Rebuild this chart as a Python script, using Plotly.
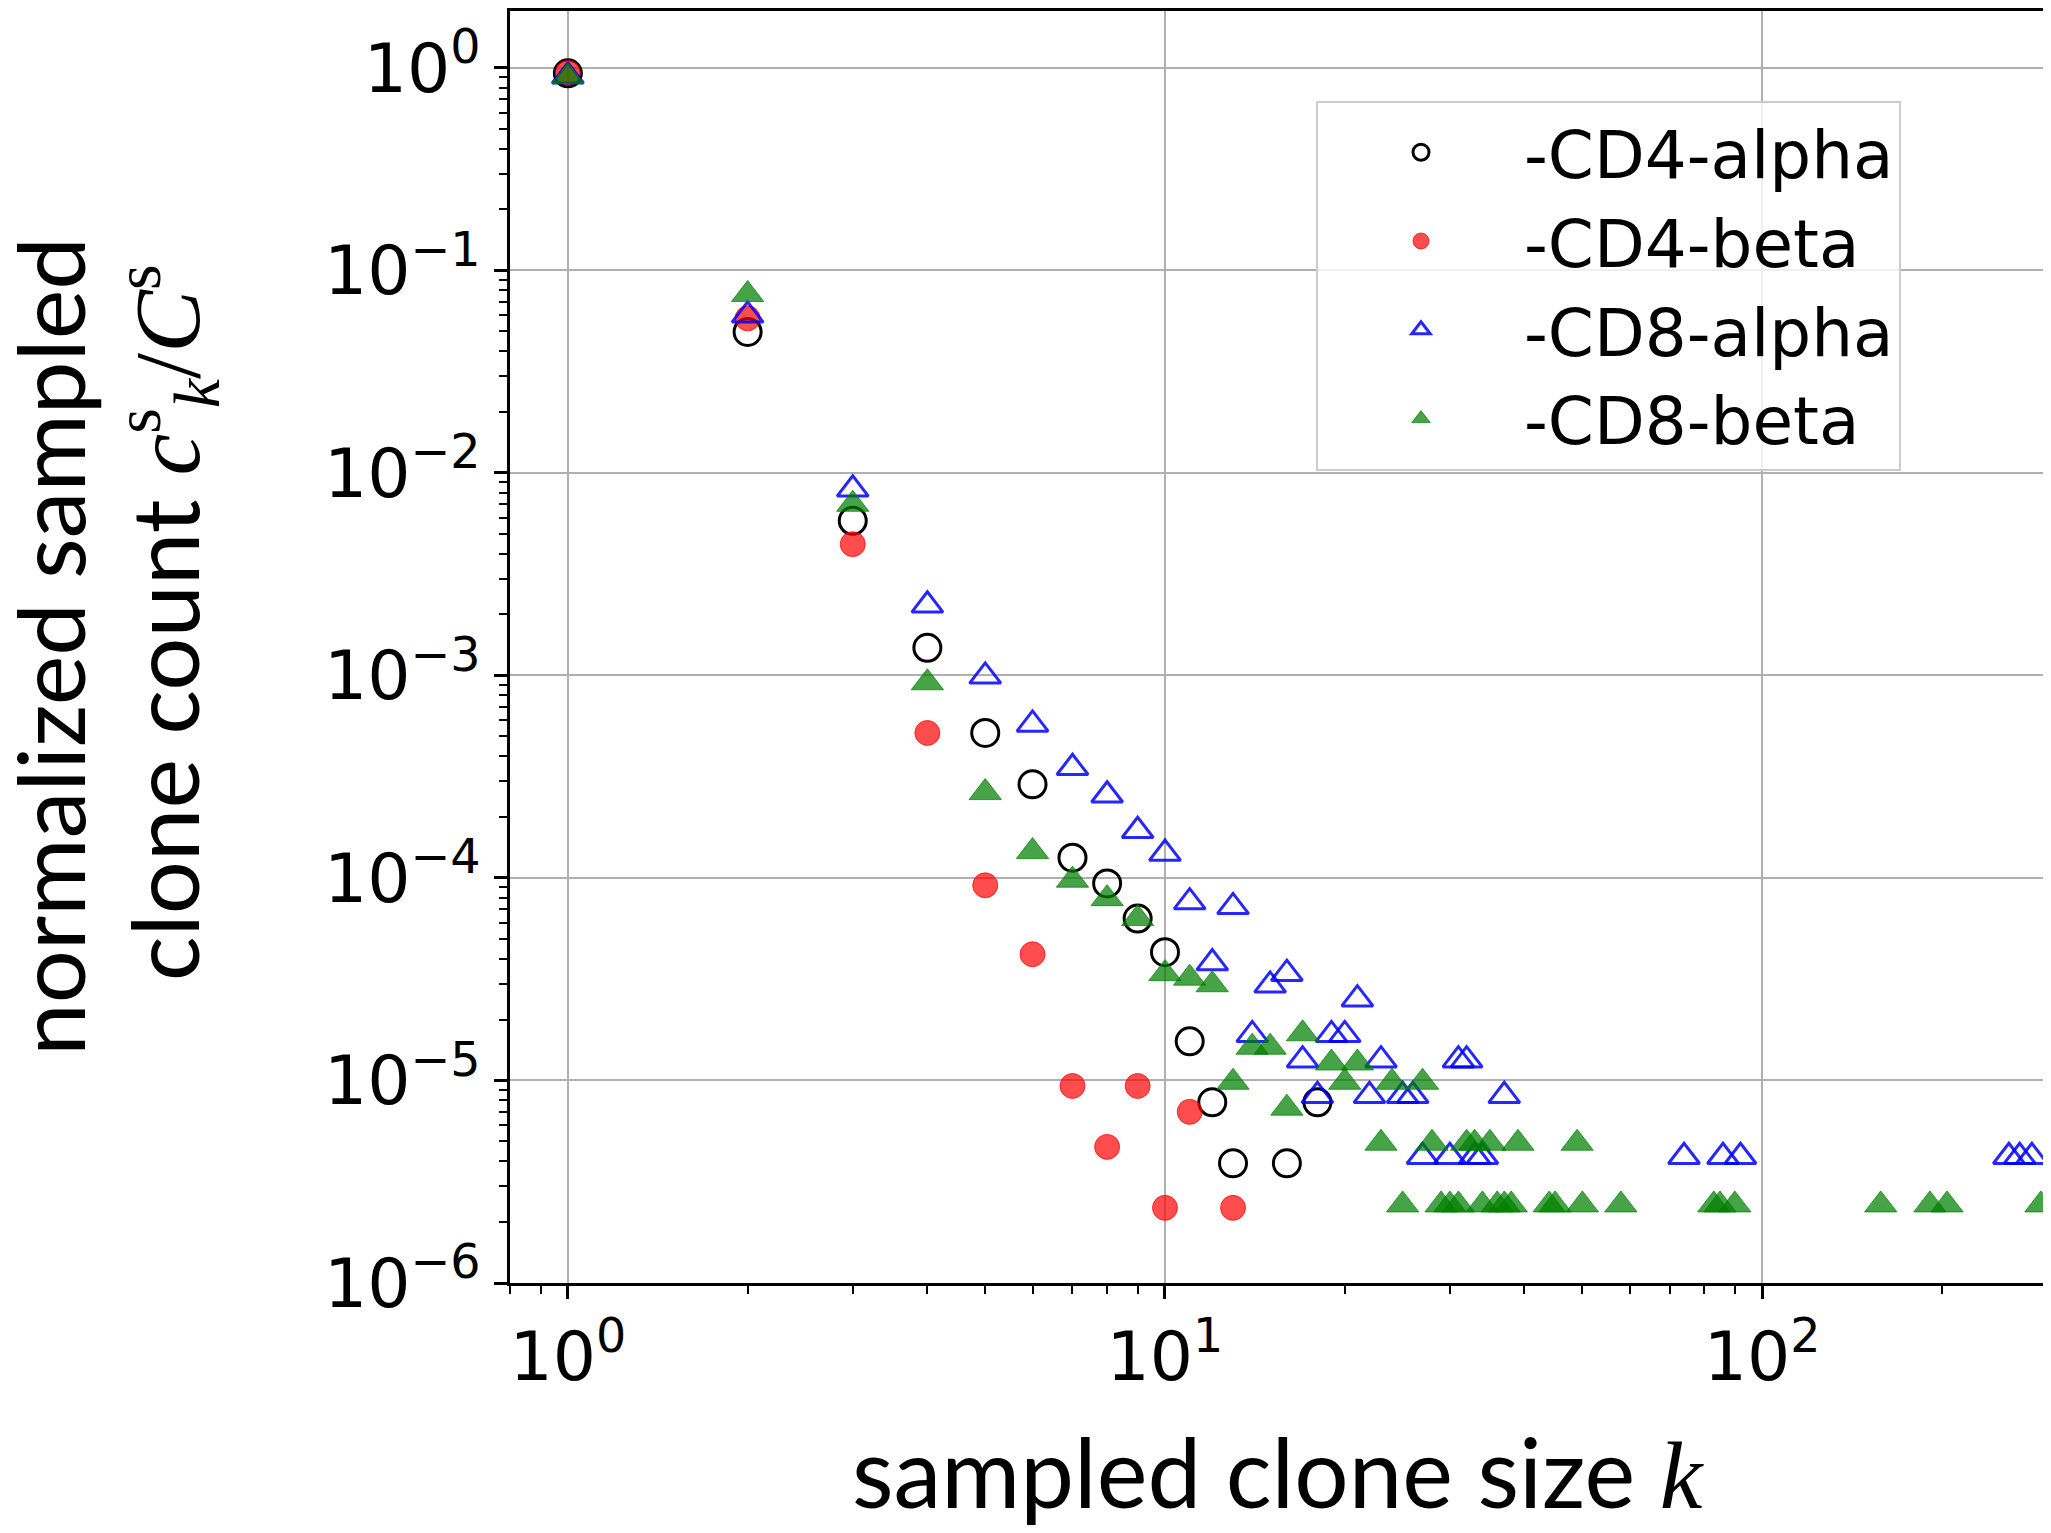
import plotly.graph_objects as go

# sampled clone size k and the normalized sampled clone count for each repertoire
cd4_alpha_k = [1, 2, 3, 4, 5, 6, 7, 8, 9, 10, 11, 12, 13, 16, 18]
cd4_alpha_y = [0.94, 0.0497, 0.0058, 1.37e-3, 5.2e-4, 2.9e-4, 1.26e-4, 9.4e-5,
               6.3e-5, 4.3e-5, 1.56e-5, 7.8e-6, 3.9e-6, 3.9e-6, 7.8e-6]

cd4_beta_k = [1, 2, 3, 4, 5, 6, 7, 8, 9, 10, 11, 13]
cd4_beta_y = [0.945, 0.058, 4.45e-3, 5.2e-4, 9.2e-5, 4.2e-5, 9.4e-6, 4.7e-6,
              9.4e-6, 2.35e-6, 7.0e-6, 2.35e-6]

cd8_alpha_k = [1, 2, 3, 4, 5, 6, 7, 8, 9, 10, 11, 12, 13, 14, 15, 16, 17, 18,
               19, 20, 21, 22, 23, 25, 26, 27, 30, 31, 32, 33, 34, 37, 74, 86,
               92, 259, 270, 283]
cd8_alpha_y = [0.91, 0.060, 8.3e-3, 2.22e-3, 9.9e-4, 5.73e-4, 3.5e-4, 2.56e-4,
               1.71e-4, 1.32e-4, 7.6e-5, 3.8e-5, 7.2e-5, 1.68e-5, 2.95e-5,
               3.37e-5, 1.26e-5, 8.4e-6, 1.68e-5, 1.68e-5, 2.52e-5, 8.4e-6,
               1.26e-5, 8.4e-6, 8.4e-6, 4.2e-6, 4.2e-6, 1.26e-5, 1.26e-5,
               4.2e-6, 4.2e-6, 8.4e-6, 4.2e-6, 4.2e-6, 4.2e-6, 4.2e-6, 4.2e-6,
               4.2e-6]

cd8_beta_k = [1, 2, 3, 4, 5, 6, 7, 8, 9, 10, 11, 12, 13, 14, 15, 16, 17, 19,
              20, 21, 23, 24, 25, 27, 28, 29, 30, 31, 32, 33, 34, 35, 36, 37,
              38, 39, 44, 45, 49, 50, 58, 83, 85, 90, 158, 191, 204, 293]
cd8_beta_y = [0.905, 0.076, 7.0e-3, 9.2e-4, 2.64e-4, 1.35e-4, 9.75e-5, 7.9e-5,
              6.3e-5, 3.37e-5, 3.2e-5, 2.97e-5, 9.8e-6, 1.46e-5, 1.46e-5,
              7.3e-6, 1.70e-5, 1.22e-5, 9.8e-6, 1.22e-5, 4.9e-6, 9.8e-6,
              2.43e-6, 9.8e-6, 4.9e-6, 2.43e-6, 2.43e-6, 2.43e-6, 4.9e-6,
              4.9e-6, 2.43e-6, 4.9e-6, 2.43e-6, 2.43e-6, 2.43e-6, 4.9e-6,
              2.43e-6, 2.43e-6, 4.9e-6, 2.43e-6, 2.43e-6, 2.43e-6, 2.43e-6,
              2.43e-6, 2.43e-6, 2.43e-6, 2.43e-6, 2.43e-6]

x_ticks = [1, 10, 100]
x_tick_text = ["10<sup>0</sup>", "10<sup>1</sup>", "10<sup>2</sup>"]
y_ticks = [1e-6, 1e-5, 1e-4, 1e-3, 1e-2, 1e-1, 1]
y_tick_text = ["10<sup>−6</sup>", "10<sup>−5</sup>", "10<sup>−4</sup>",
               "10<sup>−3</sup>", "10<sup>−2</sup>", "10<sup>−1</sup>",
               "10<sup>0</sup>"]

fig = go.Figure()

fig.add_trace(go.Scatter(
    x=cd4_alpha_k, y=cd4_alpha_y, mode="markers", name="-CD4-alpha",
    marker=dict(symbol="circle-open", size=27, color="black",
                line=dict(width=3, color="black")),
))
fig.add_trace(go.Scatter(
    x=cd4_beta_k, y=cd4_beta_y, mode="markers", name="-CD4-beta",
    marker=dict(symbol="circle", size=25, color="rgba(255,0,0,0.7)",
                line=dict(width=1, color="rgba(255,0,0,0.7)")),
))
fig.add_trace(go.Scatter(
    x=cd8_alpha_k, y=cd8_alpha_y, mode="markers", name="-CD8-alpha",
    marker=dict(symbol="triangle-up-open", size=27, color="rgba(0,0,255,0.85)",
                line=dict(width=3, color="rgba(0,0,255,0.85)")),
))
fig.add_trace(go.Scatter(
    x=cd8_beta_k, y=cd8_beta_y, mode="markers", name="-CD8-beta",
    marker=dict(symbol="triangle-up", size=28, color="rgba(0,128,0,0.72)",
                line=dict(width=1, color="rgba(0,128,0,0.72)")),
))

math_part = ("<span style='font-family:Liberation Serif'><i>c</i><sup>s</sup>"
             "<sub><i>k</i></sub>/<i>C</i><sup>s</sup></span>")

# the page body adds an 8 px offset, so the figure is 8 px smaller on each side
fig.update_layout(
    width=2043,
    height=1525,
    margin=dict(l=502, r=4, t=0, b=250),
    plot_bgcolor="white",
    paper_bgcolor="white",
    font=dict(family="DejaVu Sans", color="black"),
    legend=dict(
        x=0.5244, y=0.9294, xanchor="left", yanchor="top",
        bgcolor="rgba(255,255,255,0.8)",
        bordercolor="#cccccc", borderwidth=2,
        font=dict(family="DejaVu Sans", size=66),
        itemsizing="trace",
        itemwidth=196,
    ),
    annotations=[
        dict(
            text="sampled clone size <span style='font-family:Liberation Serif'><i>k</i></span>",
            xref="paper", yref="paper", x=0.5, y=-0.148,
            xanchor="center", yanchor="middle", showarrow=False,
            font=dict(family="Lato", size=96),
        ),
        # y label, one annotation per line
        dict(
            text="normalized sampled",
            xref="paper", yref="paper", x=-0.3, y=0.501,
            xanchor="center", yanchor="middle", showarrow=False,
            textangle=-90,
            font=dict(family="Lato", size=94),
        ),
        dict(
            text="clone count " + math_part,
            xref="paper", yref="paper", x=-0.2235, y=0.519,
            xanchor="center", yanchor="middle", showarrow=False,
            textangle=-90,
            font=dict(family="Lato", size=94),
        ),
    ],
)

fig.update_xaxes(
    type="log",
    range=[-0.0969, 2.4771],
    tickmode="array", tickvals=x_ticks, ticktext=x_tick_text,
    tickfont=dict(family="DejaVu Sans", size=68),
    ticks="outside", ticklen=13, tickwidth=2.5, tickcolor="black",
    ticklabelstandoff=0,
    showline=True, linecolor="black", linewidth=2.5, mirror=True,
    showgrid=True, gridcolor="#b0b0b0", gridwidth=2,
    zeroline=False,
    minor=dict(dtick="D1", ticks="outside", ticklen=8, tickwidth=2,
               tickcolor="black", showgrid=False),
)
fig.update_yaxes(
    type="log",
    range=[-6, 0.281],
    tickmode="array", tickvals=y_ticks, ticktext=y_tick_text,
    tickfont=dict(family="DejaVu Sans", size=68),
    ticks="outside", ticklen=13, tickwidth=2.5, tickcolor="black",
    ticklabelstandoff=0,
    showline=True, linecolor="black", linewidth=2.5, mirror=True,
    showgrid=True, gridcolor="#b0b0b0", gridwidth=2,
    zeroline=False,
    minor=dict(dtick="D1", ticks="outside", ticklen=8, tickwidth=2,
               tickcolor="black", showgrid=False),
)

fig.write_html("out.html")
